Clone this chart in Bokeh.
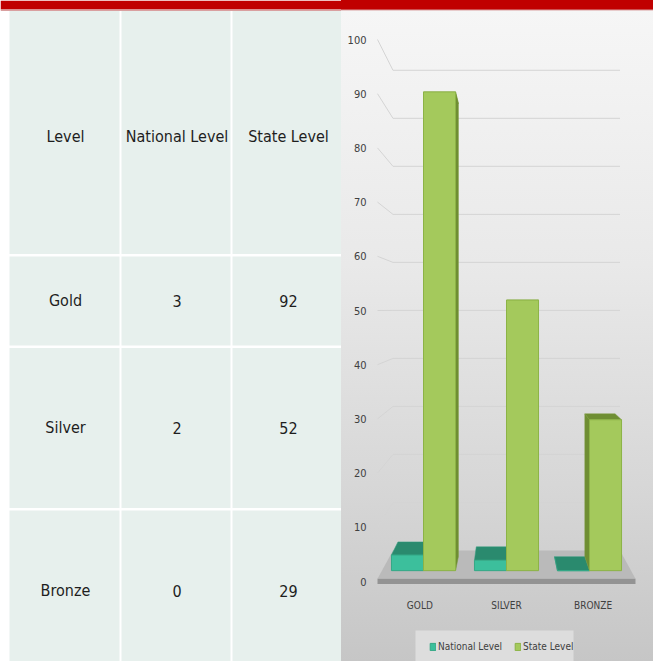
from bokeh.plotting import figure
from bokeh.models import Range1d, FixedTicker, Legend, LegendItem, ColumnDataSource
from bokeh.layouts import row
from bokeh.core.properties import value
from bokeh.embed import file_html
from bokeh.resources import INLINE

# ---------------- data ----------------
levels = ["Gold", "Silver", "Bronze"]
categories = ["GOLD", "SILVER", "BRONZE"]
header = ["Level", "National Level", "State Level"]
series_names = ["National Level", "State Level"]
national = [3, 2, 0]
state = [92, 52, 29]
y_ticks = [0, 10, 20, 30, 40, 50, 60, 70, 80, 90, 100]

# ---------------- style / layout ----------------
FONT_NAME = "DejaVu Sans Condensed, Liberation Sans Narrow, sans-serif"
FONT = value(FONT_NAME)
W_TABLE, W_CHART, H = 341, 312, 661
LEFT_B = 28
RED = "#c00000"
CELL = "#e7f0ed"

# ================= table =================
t = figure(frame_width=W_TABLE, frame_height=H, output_backend="svg", toolbar_location=None,
           x_range=Range1d(0, W_TABLE), y_range=Range1d(H, 0),
           min_border=0, outline_line_color=None, background_fill_color="white",
           border_fill_color="white")
t.axis.visible = False
t.grid.visible = False

col_edges = [(9, 119), (121, 230), (232, W_TABLE + 1)]
row_edges = [(10.5, 253.5), (256, 345), (347.5, 507.5), (510, H + 1)]

cl, cr, cb, ct = [], [], [], []
for (y0, y1) in row_edges:
    for (x0, x1) in col_edges:
        cl.append(x0); cr.append(x1); cb.append(y1); ct.append(y0)
t.quad(left=cl, right=cr, top=ct, bottom=cb, fill_color=CELL, line_color=None)
t.quad(left=[0], right=[W_TABLE + 1], top=[0], bottom=[9], fill_color=RED, line_color=None)
t.quad(left=[0], right=[W_TABLE + 1], top=[9], bottom=[10.5], fill_color="#d9a0a0",
       line_color=None)

rows_text = [header] + [[levels[i], str(national[i]), str(state[i])] for i in range(len(levels))]
row_text_y = [136, 300, 427, 590]
tx, ty, tt = [], [], []
for r in range(len(row_edges)):
    for c, (x0, x1) in enumerate(col_edges):
        tx.append((x0 + x1) / 2 + 1)
        ty.append(row_text_y[r])
        tt.append(rows_text[r][c])
t.text(x=tx, y=ty, text=tt, text_font=FONT, text_font_size="16px", text_color="#1e1e1e",
       text_align="center", text_baseline="middle")

# ================= chart =================
def yv(refy):
    return (581 - refy) / 5.42

def xv(refx):
    return (refx - 423) / 83.0

p = figure(frame_width=W_CHART - LEFT_B, frame_height=H,
           output_backend="svg", toolbar_location=None,
           x_range=Range1d(xv(W_TABLE + LEFT_B), xv(W_TABLE + W_CHART)),
           y_range=Range1d(yv(H), yv(0)),
           min_border_left=LEFT_B, min_border_right=0, min_border_top=0,
           min_border_bottom=0, outline_line_color=None,
           background_fill_color=None, border_fill_color=None)
p.styles = {"background-image": "linear-gradient(to bottom, #c00000 0px, #c00000 9px, "
                                "#d9a0a0 10px, #f6f6f6 11px, #e9e9e9 40%, #d6d6d6 75%, "
                                "#c6c6c6 100%)"}
p.grid.visible = False
p.xaxis.visible = False

# perspective helpers (d: 0 front plane, 1 back wall)
def py(v, d):
    return v * (1 - 0.114 * d) + 5.72 * d

def pxd(x, d, d0):
    return 1 + (x - 1) * (1 - 0.12 * d) / (1 - 0.12 * d0)

F_L, F_R = xv(377), xv(635)
B_L, B_R = pxd(F_L, 1, 0), pxd(F_R, 1, 0)

# back wall grid lines + left wall diagonals
gx, gy = [], []
for v in y_ticks[1:]:
    gx.append([F_L, B_L, B_R]); gy.append([v, py(v, 1), py(v, 1)])
p.multi_line(xs=gx, ys=gy, line_color="#d4d4d4", line_width=1)

# floor
p.patch(x=[F_L, F_R, B_R, B_L], y=[0.5, 0.5, py(0, 1), py(0, 1)], fill_color="#bababa",
        line_color=None)
p.quad(left=[F_L], right=[F_R], top=[0.5], bottom=[-0.45], fill_color="#939393", line_color=None)

# legend panel background
p.quad(left=[xv(415)], right=[xv(573)], top=[yv(630)], bottom=[yv(H + 2)],
       fill_color="#dddddd", line_color=None)

# bars
BW = 0.386
D0, D1 = 0.35, 0.8
series = [national, state]
offs = [-BW, 0.0]
front_col = ["#3cbf9c", "#a4c95c"]
front_line = ["#34a886", "#8cb346"]
cap_col = ["#2e9c7c", "#7a9b3b"]
side_col = ["#2a8a6e", "#6f8e33"]

fronts = []
for s, vals in enumerate(series):
    sx, sy, fl, fr, fb, ft = [], [], [], [], [], []
    for i, v in enumerate(vals):
        xl = i + offs[s]
        xr = xl + BW
        tf, tb = py(v, D0), py(v, D1)
        bf, bb = py(0, D0), py(0, D1)
        xlb, xrb = pxd(xl, D1, D0), pxd(xr, D1, D0)
        sx.append([xl, xr, xrb, xlb]); sy.append([tf, tf, tb, tb])
        if xrb > xr:
            sx.append([xr, xr, xrb, xrb]); sy.append([bf, tf, tb, bb])
        if xlb < xl:
            sx.append([xl, xl, xlb, xlb]); sy.append([bf, tf, tb, bb])
        fl.append(xl); fr.append(xr); fb.append(bf); ft.append(tf)
    p.patches(xs=sx, ys=sy, fill_color=side_col[s], line_color=cap_col[s], line_width=0.5)
    fronts.append((fl, fr, fb, ft))

legend_items = []
for s, (fl, fr, fb, ft) in enumerate(fronts):
    src = ColumnDataSource(dict(left=fl, right=fr, bottom=fb, top=ft))
    r = p.quad(left="left", right="right", bottom="bottom", top="top", source=src,
               fill_color=front_col[s], line_color=front_line[s], line_width=1)
    legend_items.append(LegendItem(label=series_names[s], renderers=[r]))

# category labels on the front edge of the floor
cat_x = [pxd(i, 0, D0) for i in range(len(categories))]
p.text(x=cat_x, y=[yv(605)] * len(categories), text=categories, text_font=FONT,
       text_font_size="10px", text_color="#404040", text_align="center",
       text_baseline="middle")

# y axis
p.yaxis.ticker = FixedTicker(ticks=y_ticks)
p.yaxis.axis_line_color = None
p.yaxis.major_tick_line_color = None
p.yaxis.minor_tick_line_color = None
p.yaxis.major_tick_out = 0
p.yaxis.major_tick_in = 0
p.yaxis.major_label_standoff = 3
p.yaxis.major_label_text_font = FONT_NAME
p.yaxis.major_label_text_font_size = "11px"
p.yaxis.major_label_text_color = "#404040"

legend = Legend(items=legend_items, orientation="horizontal",
                location=(429 - W_TABLE - LEFT_B, 9),
                background_fill_alpha=0, border_line_color=None,
                label_text_font=FONT_NAME, label_text_font_size="10px",
                label_text_color="#404040", glyph_width=7, glyph_height=9,
                label_height=11, label_standoff=2, spacing=12, padding=0, margin=0)
p.add_layout(legend)

layout = row(t, p, spacing=0)
open("out.html", "w").write(file_html(layout, INLINE))
